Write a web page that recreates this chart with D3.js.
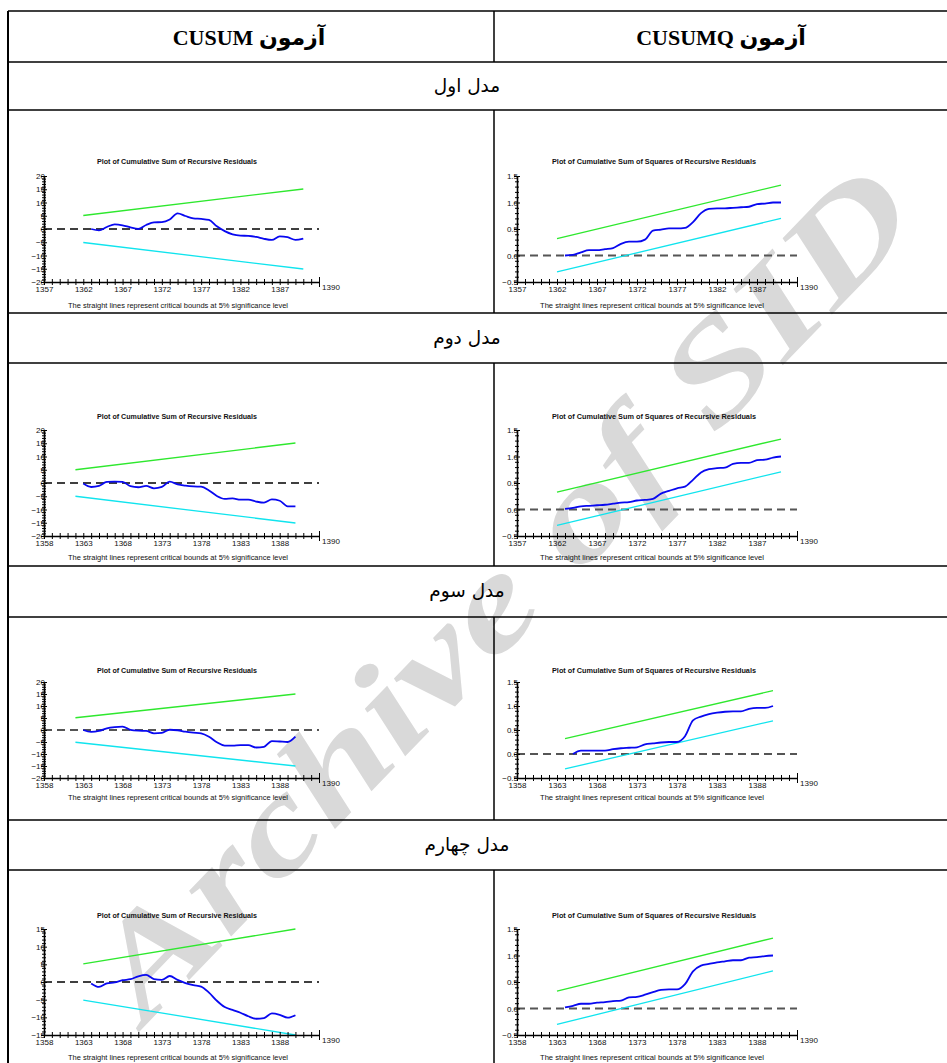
<!DOCTYPE html>
<html>
<head>
<meta charset="utf-8">
<script src="https://cdn.jsdelivr.net/npm/d3@7"></script>
<style>
  body { margin: 0; background: #fff; }
</style>
</head>
<body>
<div id="chart"></div>
<script>
// table text
var colHeaders = ['آزمون CUSUM', 'آزمون CUSUMQ'];
var modelNames = ['مدل اول', 'مدل دوم', 'مدل سوم', 'مدل چهارم'];
var cusumTitle = 'Plot of Cumulative Sum of Recursive Residuals';
var cusumqTitle = 'Plot of Cumulative Sum of Squares of Recursive Residuals';
var footNote = 'The straight lines represent critical bounds at 5% significance level';
var watermark = 'Archive of SID';
var endYear = 1390;

// first year of x axis for each model
var cusumAxisStart = [1357, 1358, 1358, 1358];
var cusumqAxisStart = [1357, 1357, 1358, 1358];
var cusumYMax = [20, 20, 20, 15];
var cusumqYMin = -0.5, cusumqYMax = 1.5;

// critical bounds (first year, value at first year, value at 1390)
var cusumBoundYear = [1362, 1362, 1362, 1363];
var cusumBound = [[5.1, 15.1], [5.0, 15.1], [5.1, 15.0], [5.1, 15.0]];
var cusumqBoundYear = [1362, 1362, 1364, 1363];
var cusumqUpper = [[0.32, 1.33], [0.33, 1.33], [0.32, 1.32], [0.33, 1.33]];
var cusumqLower = [[-0.31, 0.70], [-0.30, 0.71], [-0.31, 0.69], [-0.30, 0.71]];

// recursive residual series, first year then yearly values up to 1390
var cusumStart = [1363, 1363, 1363, 1364];
var cusum1 = [0, -0.5, 0.75, 1.75, 1.4, 0.6, 0, 1.5, 2.5, 2.6, 3.6, 5.9, 4.9, 4.0, 3.8, 3.4,
  1.0, -0.8, -2.0, -2.5, -2.6, -3.0, -3.7, -4.1, -2.8, -3.1, -4.1, -3.6];
var cusum2 = [-0.2, -1.5, -1.1, 0.4, 0.5, 0.4, -1.2, -1.6, -1.1, -2.0, -1.5, 0.5, -0.5, -1.0,
  -1.3, -1.4, -2.8, -4.9, -6.0, -5.8, -6.3, -6.3, -7.0, -7.4, -6.2, -6.7, -8.8, -8.8];
var cusum3 = [0, -0.8, -0.4, 0.7, 1.2, 1.4, 0.1, -0.3, -0.4, -1.4, -1.2, 0.1, -0.1, -0.7,
  -1.1, -1.4, -2.8, -5.1, -6.5, -6.5, -6.3, -6.3, -7.3, -7.0, -4.6, -4.8, -5.0, -2.8];
var cusum4 = [-0.4, -1.4, -0.4, -0.1, 0.5, 0.8, 1.6, 2.0, 0.8, 0.6, 1.7, 0.6, -0.3, -0.9,
  -1.3, -3.0, -5.3, -7.1, -7.9, -8.7, -9.7, -10.4, -10.2, -8.9, -9.3, -10.1, -9.4];

var cusumqStart = [1363, 1363, 1365, 1364];
var cusumq1 = [0.00, 0.01, 0.06, 0.10, 0.10, 0.12, 0.14, 0.22, 0.26, 0.26, 0.30, 0.47, 0.49, 0.51,
  0.51, 0.52, 0.63, 0.80, 0.88, 0.89, 0.89, 0.90, 0.91, 0.92, 0.97, 0.98, 1.00, 1.00];
var cusumq2 = [0.01, 0.03, 0.06, 0.07, 0.08, 0.09, 0.11, 0.13, 0.14, 0.17, 0.18, 0.20, 0.30, 0.35,
  0.40, 0.43, 0.56, 0.70, 0.76, 0.78, 0.79, 0.86, 0.88, 0.88, 0.93, 0.94, 0.98, 1.00];
var cusumq3 = [0.00, 0.07, 0.07, 0.07, 0.07, 0.10, 0.12, 0.13, 0.14, 0.20, 0.22, 0.24, 0.25,
  0.25, 0.37, 0.70, 0.78, 0.83, 0.86, 0.88, 0.89, 0.89, 0.94, 0.96, 0.96, 1.00];
var cusumq4 = [0.02, 0.05, 0.09, 0.09, 0.11, 0.12, 0.14, 0.15, 0.21, 0.22, 0.26, 0.31, 0.35, 0.36,
  0.36, 0.46, 0.70, 0.81, 0.84, 0.87, 0.89, 0.91, 0.91, 0.96, 0.97, 0.99, 1.00];

var cusumSeries = [cusum1, cusum2, cusum3, cusum4];
var cusumqSeries = [cusumq1, cusumq2, cusumq3, cusumq4];

// ---- layout ----
var width = 947, height = 1063;
var tableLeft = 8, tableRight = 950, colSplit = 494;
var rowLines = [11, 62, 110, 313, 363, 566, 617, 820, 870];
var plotTop = [176, 430, 682, 929];
var plotBottom = [282, 536, 778, 1035];
var titleY = [164, 419, 673, 918];
var footY = [308, 560, 800, 1060];

var green = '#2ee82e', cyan = '#10e4ee', blue = '#0808f0';
var chartFont = '"Liberation Sans", Arial, sans-serif';

var svg = d3.select('#chart').append('svg')
  .attr('width', width)
  .attr('height', height)
  .style('display', 'block');

// faint watermark behind everything
svg.append('text')
  .attr('transform', 'translate(500,590) rotate(-46)')
  .attr('text-anchor', 'middle')
  .attr('dy', '0.35em')
  .attr('font-family', '"Liberation Serif", serif')
  .attr('font-weight', 'bold')
  .attr('font-style', 'italic')
  .attr('font-size', 135)
  .attr('textLength', 1120)
  .attr('lengthAdjust', 'spacingAndGlyphs')
  .attr('fill', '#d9d9d9')
  .text(watermark);

// table grid
var grid = svg.append('g').attr('stroke', '#000').attr('stroke-width', 1.5);
rowLines.forEach(function(y) {
  grid.append('line').attr('x1', tableLeft).attr('x2', tableRight).attr('y1', y).attr('y2', y);
});
grid.append('line').attr('x1', tableLeft).attr('x2', tableLeft)
  .attr('y1', rowLines[0]).attr('y2', height).attr('stroke-width', 2);
[[rowLines[0], rowLines[1]], [rowLines[2], rowLines[3]], [rowLines[4], rowLines[5]],
 [rowLines[6], rowLines[7]], [rowLines[8], height]].forEach(function(seg) {
  grid.append('line').attr('x1', colSplit).attr('x2', colSplit).attr('y1', seg[0]).attr('y2', seg[1]);
});

// column headers
[249, 721].forEach(function(cx, i) {
  svg.append('text')
    .attr('x', cx).attr('y', 37).attr('dy', '0.35em')
    .attr('text-anchor', 'middle')
    .attr('direction', 'rtl')
    .attr('font-family', '"Liberation Serif", "DejaVu Sans", serif')
    .attr('font-weight', 'bold')
    .attr('font-size', 22)
    .text(colHeaders[i]);
});

// model rows
modelNames.forEach(function(name, i) {
  svg.append('text')
    .attr('x', 467).attr('y', (rowLines[2 * i + 1] + rowLines[2 * i + 2]) / 2).attr('dy', '0.3em')
    .attr('text-anchor', 'middle')
    .attr('direction', 'rtl')
    .attr('font-family', '"DejaVu Sans", sans-serif')
    .attr('font-size', 18.5)
    .text(name);
});

function seriesPoints(start, values) {
  return values.map(function(v, k) { return { year: start + k, value: v }; });
}

function drawPanel(opts) {
  var g = svg.append('g');
  var x = d3.scaleLinear().domain([opts.axisStart, opts.axisStart + 35]).range([opts.x0, opts.x1]);
  var y = d3.scaleLinear().domain(opts.yDomain).range([opts.bottom, opts.top]);

  // title and footnote
  g.append('text')
    .attr('x', opts.titleX).attr('y', opts.titleY)
    .attr('text-anchor', 'middle')
    .attr('font-family', chartFont).attr('font-weight', 'bold').attr('font-size', 7.5)
    .attr('textLength', opts.titleLen).attr('lengthAdjust', 'spacingAndGlyphs')
    .attr('fill', '#111')
    .text(opts.title);
  g.append('text')
    .attr('x', opts.footX).attr('y', opts.footY)
    .attr('text-anchor', 'middle')
    .attr('font-family', chartFont).attr('font-size', 7.5)
    .attr('textLength', opts.footLen).attr('lengthAdjust', 'spacingAndGlyphs')
    .attr('fill', '#111')
    .text(footNote);

  // zero line
  g.append('line')
    .attr('x1', opts.x0).attr('x2', opts.x1)
    .attr('y1', y(0)).attr('y2', y(0))
    .attr('stroke', opts.dashColor).attr('stroke-width', opts.dashWidth)
    .attr('stroke-dasharray', '8,5');

  // bounds
  var line = d3.line().x(function(d) { return x(d.year); }).y(function(d) { return y(d.value); });
  opts.bounds.forEach(function(b) {
    g.append('path')
      .datum([{ year: opts.boundYear, value: b.v[0] }, { year: endYear, value: b.v[1] }])
      .attr('d', line)
      .attr('fill', 'none').attr('stroke', b.color).attr('stroke-width', 1.3);
  });

  // series
  g.append('path')
    .datum(seriesPoints(opts.start, opts.values))
    .attr('d', line.curve(d3.curveMonotoneX))
    .attr('fill', 'none').attr('stroke', blue).attr('stroke-width', 1.8);

  // y axis
  var yAxis = d3.axisLeft(y)
    .tickValues(opts.yTicks)
    .tickSize(2).tickSizeOuter(0)
    .tickFormat(function(d) { return opts.isMajor(d) ? opts.fmt(d) : ''; });
  var ga = g.append('g').attr('transform', 'translate(' + opts.x0 + ',0)').call(yAxis);
  ga.select('.domain').attr('stroke-width', 1.6);
  ga.selectAll('.tick line')
    .attr('x1', function(d) { return opts.isMajor(d) ? 3 : 2; })
    .attr('x2', function(d) { return opts.isMajor(d) ? -3 : -2; });
  ga.selectAll('.tick text').attr('x', 1).attr('fill', '#111');
  ga.attr('font-family', chartFont).attr('font-size', 8);

  // x axis
  var years = d3.range(opts.axisStart, opts.axisStart + 36);
  var xAxis = d3.axisBottom(x)
    .tickValues(years)
    .tickSize(3).tickSizeOuter(0).tickPadding(1.5)
    .tickFormat(function(d) {
      return (d - opts.axisStart) % 5 === 0 && d - opts.axisStart <= 30 ? d : '';
    });
  var gx = g.append('g').attr('transform', 'translate(0,' + opts.bottom + ')').call(xAxis);
  gx.select('.domain').attr('stroke-width', 1.6);
  gx.selectAll('.tick line')
    .attr('y1', function(d) { return d === opts.axisStart + 35 ? -5 : -3; })
    .attr('y2', function(d) { return d === opts.axisStart + 35 ? 5 : 3; });
  gx.selectAll('.tick text').attr('fill', '#111');
  gx.attr('font-family', chartFont).attr('font-size', 8);
  gx.append('text')
    .attr('x', opts.x1 + 12).attr('y', 7.5)
    .attr('text-anchor', 'middle').attr('fill', '#111')
    .text(endYear);
}

for (var i = 0; i < 4; i++) {
  var cusumTicks = d3.range(-cusumYMax[i], cusumYMax[i] + 1);
  drawPanel({
    x0: 44, x1: 319, top: plotTop[i], bottom: plotBottom[i],
    axisStart: cusumAxisStart[i],
    yDomain: [-cusumYMax[i], cusumYMax[i]],
    yTicks: cusumTicks,
    isMajor: function(d) { return d % 5 === 0; },
    fmt: d3.format('d'),
    title: cusumTitle, titleX: 177, titleY: titleY[i], titleLen: 160,
    footX: 178, footY: footY[i], footLen: 220,
    dashColor: i === 2 ? '#555' : '#000', dashWidth: i === 2 ? 2 : 1.5,
    boundYear: cusumBoundYear[i],
    bounds: [
      { v: cusumBound[i], color: green },
      { v: [-cusumBound[i][0], -cusumBound[i][1]], color: cyan }
    ],
    start: cusumStart[i], values: cusumSeries[i]
  });

  var qTicks = d3.range(-5, 16).map(function(k) { return k / 10; });
  drawPanel({
    x0: 517, x1: 797, top: plotTop[i], bottom: plotBottom[i],
    axisStart: cusumqAxisStart[i],
    yDomain: [cusumqYMin, cusumqYMax],
    yTicks: qTicks,
    isMajor: function(d) { return Math.abs(Math.round(d * 10) % 5) === 0; },
    fmt: d3.format('.1f'),
    title: cusumqTitle, titleX: 654, titleY: titleY[i], titleLen: 204,
    footX: 652, footY: footY[i], footLen: 224,
    dashColor: '#555', dashWidth: 2,
    boundYear: cusumqBoundYear[i],
    bounds: [
      { v: cusumqUpper[i], color: green },
      { v: cusumqLower[i], color: cyan }
    ],
    start: cusumqStart[i], values: cusumqSeries[i]
  });
}
</script>
</body>
</html>
